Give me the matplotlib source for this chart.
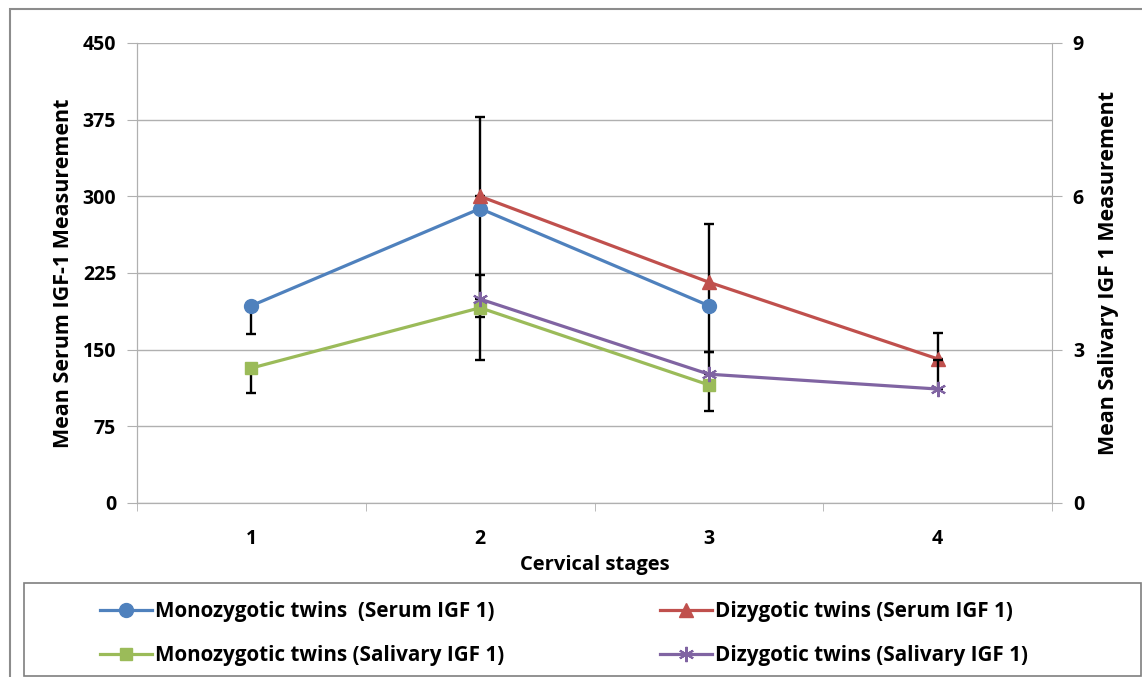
import numpy as np
import matplotlib.pyplot as plt
from matplotlib.patches import Rectangle

plt.rcParams['font.family'] = ['Open Sans', 'DejaVu Sans']

stages = [1, 2, 3, 4]
stage_labels = ['1', '2', '3', '4']

# serum IGF-1 (left axis)
mono_serum = [193, 288, 193, np.nan]
mono_serum_lo = [28, 106, 45, 0]
mono_serum_hi = [0, 0, 0, 0]
di_serum = [np.nan, 300, 216, 141]
di_serum_lo = [0, 0, 23, 0]
di_serum_hi = [0, 78, 57, 25]

# salivary IGF 1 (right axis)
mono_sal = [2.64, 3.82, 2.31, np.nan]
mono_sal_lo = [0.49, 1.02, 0.51, 0]
mono_sal_hi = [0, 0, 0, 0]
di_sal = [np.nan, 3.99, 2.52, 2.23]
di_sal_lo = [0, 0, 0, 0]
di_sal_hi = [0, 0.47, 0.43, 0.57]

blue = '#4F81BD'
red = '#C0504D'
green = '#9BBB59'
purple = '#8064A2'
grid_c = '#B0B0B0'

W, H = 1142, 677
fig = plt.figure(figsize=(W / 100, H / 100), dpi=100)
ax = fig.add_axes([137 / W, 1 - 503 / H, (1052 - 137) / W, (503 - 43) / H])
ax2 = ax.twinx()

# outer chart border
fig.patches.append(Rectangle((10 / W, -0.1), 1.2, 1 - 9 / H + 0.1, transform=fig.transFigure,
                             fill=False, edgecolor='#8C8C8C', lw=1.5))
# legend box
fig.patches.append(Rectangle((24 / W, 1 - 676 / H), (1141 - 24) / W, (676 - 583) / H,
                             transform=fig.transFigure, fill=False, edgecolor='#7F7F7F', lw=1.2))

eb = dict(fmt='none', ecolor='black', elinewidth=1.7, capsize=3.6, capthick=1.7, zorder=2)
ax.errorbar(stages, mono_serum, yerr=[mono_serum_lo, mono_serum_hi], **eb)
ax.errorbar(stages, di_serum, yerr=[di_serum_lo, di_serum_hi], **eb)
ax2.errorbar(stages, mono_sal, yerr=[mono_sal_lo, mono_sal_hi], **eb)
ax2.errorbar(stages, di_sal, yerr=[di_sal_lo, di_sal_hi], **eb)

l1, = ax.plot(stages, mono_serum, color=blue, lw=2.3, marker='o', ms=10, zorder=3,
              label='Monozygotic twins  (Serum IGF 1)')
l2, = ax.plot(stages, di_serum, color=red, lw=2.3, marker='^', ms=10, zorder=3,
              label='Dizygotic twins (Serum IGF 1)')
l3, = ax2.plot(stages, mono_sal, color=green, lw=2.3, marker='s', ms=8, zorder=3,
               label='Monozygotic twins (Salivary IGF 1)')
l4, = ax2.plot(stages, di_sal, color=purple, lw=2.3, marker=(6, 2, 0), ms=11, mew=1.5, zorder=3,
               label='Dizygotic twins (Salivary IGF 1)')

ax.set_xlim(0.5, 4.5)
ax.set_ylim(0, 450)
ax2.set_ylim(0, 9)
ax.set_yticks(np.arange(0, 451, 75))
ax2.set_yticks(np.arange(0, 10, 3))
ax.set_xticks(stages)
ax.set_xticklabels(stage_labels)
ax.set_xticks([0.5, 1.5, 2.5, 3.5, 4.5], minor=True)
ax.tick_params(axis='x', which='major', length=0, pad=19)
ax.tick_params(axis='x', which='minor', length=6, color=grid_c)
ax.tick_params(axis='y', length=7, color=grid_c, pad=8)
ax2.tick_params(axis='y', length=7, color=grid_c, pad=8)
for a in (ax, ax2):
    for t in a.get_xticklabels() + a.get_yticklabels():
        t.set_fontsize(14)
        t.set_fontweight('bold')
ax.grid(axis='y', color=grid_c, lw=1)
ax.set_axisbelow(True)

for a in (ax, ax2):
    a.spines['top'].set_visible(False)
    for s in ('left', 'right', 'bottom'):
        a.spines[s].set_color(grid_c)
ax.spines['right'].set_visible(False)

ax.set_ylabel('Mean Serum IGF-1 Measurement', fontsize=15.5, fontweight='bold', labelpad=6)
ax2.set_ylabel('Mean Salivary IGF 1 Measurement', fontsize=15.5, fontweight='bold', labelpad=10)
ax.set_xlabel('Cervical stages', fontsize=14.5, fontweight='bold', labelpad=4)

leg_kw = dict(frameon=False, prop={'size': 14.9, 'weight': 'bold'}, handlelength=2.5,
              handletextpad=0.15, labelspacing=1.12, borderpad=0, borderaxespad=0)
fig.legend(handles=[l1, l3], loc='upper left', bbox_to_anchor=(100 / W, 1 - 601 / H), **leg_kw)
fig.legend(handles=[l2, l4], loc='upper left', bbox_to_anchor=(660 / W, 1 - 601 / H), **leg_kw)

fig.savefig('out.png', dpi=100)
